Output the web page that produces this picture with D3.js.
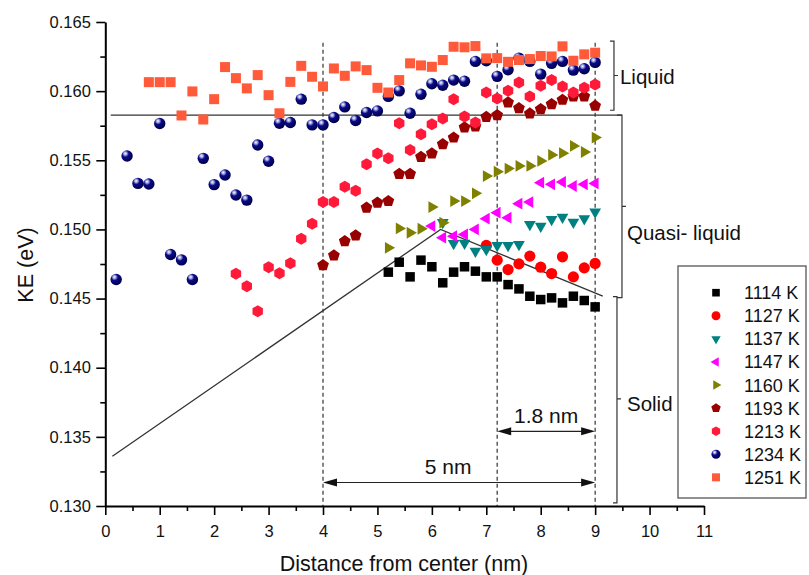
<!DOCTYPE html>
<html>
<head>
<meta charset="utf-8">
<script src="https://cdn.jsdelivr.net/npm/d3@7/dist/d3.min.js"></script>
<style>
  html, body { margin: 0; padding: 0; background: #fff; }
  svg { display: block; font-family: "Liberation Sans", Arial, sans-serif; }
</style>
</head>
<body>
<svg id="chart" width="809" height="575"></svg>
<script>
// Kinetic energy vs. distance from the cluster centre, one series per temperature
const temps = ["1114 K", "1127 K", "1137 K", "1147 K", "1160 K", "1193 K", "1213 K", "1234 K", "1251 K"];

const x1114 = [5.2, 5.4, 5.6, 5.8, 6.0, 6.2, 6.4, 6.6, 6.8, 7.0, 7.2, 7.4, 7.6, 7.8, 8.0, 8.2, 8.4, 8.6, 8.8, 9.0];
const ke1114 = [0.14691, 0.14763, 0.14657, 0.14778, 0.14730, 0.14614, 0.14691, 0.14730, 0.14698, 0.14657,
                0.14657, 0.14601, 0.14570, 0.14517, 0.14493, 0.14505, 0.14469, 0.14517, 0.14486, 0.14440];

const x1127 = [7.0, 7.2, 7.4, 7.6, 7.8, 8.0, 8.2, 8.4, 8.6, 8.8, 9.0];
const ke1127 = [0.14884, 0.14778, 0.14710, 0.14751, 0.14807, 0.14727, 0.14681, 0.14802, 0.14657, 0.14722, 0.14754];

const x1137 = [6.2, 6.4, 6.6, 6.8, 7.0, 7.2, 7.4, 7.6, 7.8, 8.0, 8.2, 8.4, 8.6, 8.8, 9.0];
const ke1137 = [0.15050, 0.14899, 0.14900, 0.14843, 0.14855, 0.14884, 0.14884, 0.14891, 0.15036, 0.15024,
                0.15072, 0.15089, 0.15053, 0.15078, 0.15126];

const x1147 = [6.0, 6.2, 6.4, 6.6, 6.8, 7.0, 7.2, 7.4, 7.6, 7.8, 8.0, 8.2, 8.4, 8.6, 8.8, 9.0];
const ke1147 = [0.15024, 0.14940, 0.14951, 0.14964, 0.15000, 0.15078, 0.15121, 0.15085, 0.15186, 0.15198,
                0.15338, 0.15326, 0.15343, 0.15314, 0.15326, 0.15333];

const x1160 = [5.2, 5.4, 5.6, 5.8, 6.0, 6.2, 6.4, 6.6, 6.8, 7.0, 7.2, 7.4, 7.6, 7.8, 8.0, 8.2, 8.4, 8.6, 8.8, 9.0];
const ke1160 = [0.14867, 0.15007, 0.14976, 0.15005, 0.15162, 0.15049, 0.15205, 0.15205, 0.15261, 0.15386,
                0.15418, 0.15440, 0.15459, 0.15459, 0.15495, 0.15539, 0.15551, 0.15604, 0.15560, 0.15664];

const x1193 = [4.0, 4.2, 4.4, 4.6, 4.8, 5.0, 5.2, 5.4, 5.6, 5.8, 6.0, 6.2, 6.4, 6.6, 6.8, 7.0, 7.2, 7.4, 7.6,
               7.8, 8.0, 8.2, 8.4, 8.6, 8.8, 9.0];
const ke1193 = [0.14741, 0.14812, 0.14915, 0.14957, 0.15157, 0.15193, 0.15205, 0.15401, 0.15401, 0.15524,
                0.15549, 0.15616, 0.15664, 0.15737, 0.15744, 0.15814, 0.15826, 0.15918, 0.15877, 0.15838,
                0.15870, 0.15906, 0.15937, 0.15962, 0.15962, 0.15894];

const x1213 = [2.4, 2.6, 2.8, 3.0, 3.2, 3.4, 3.6, 3.8, 4.0, 4.2, 4.4, 4.6, 4.8, 5.0, 5.2, 5.4, 5.6, 5.8, 6.0,
               6.2, 6.4, 6.6, 6.8, 7.0, 7.2, 7.4, 7.6, 7.8, 8.0, 8.2, 8.4, 8.6, 8.8, 9.0];
const ke1213 = [0.14679, 0.14589, 0.14408, 0.14727, 0.14683, 0.14756, 0.14932, 0.15041, 0.15198, 0.15198,
                0.15309, 0.15280, 0.15471, 0.15549, 0.15514, 0.15768, 0.15575, 0.15688, 0.15761, 0.15802,
                0.15942, 0.15817, 0.15773, 0.15990, 0.15947, 0.16002, 0.16063, 0.15962, 0.16039, 0.16080,
                0.16034, 0.15990, 0.16024, 0.16048];

const x1234 = [0.2, 0.4, 0.6, 0.8, 1.0, 1.2, 1.4, 1.6, 1.8, 2.0, 2.2, 2.4, 2.6, 2.8, 3.0, 3.2, 3.4, 3.6, 3.8,
               4.0, 4.2, 4.4, 4.6, 4.8, 5.0, 5.2, 5.4, 5.6, 5.8, 6.0, 6.2, 6.4, 6.6, 6.8, 7.0, 7.2, 7.4,
               7.6, 7.8, 8.0, 8.2, 8.4, 8.6, 8.8, 9.0];
const ke1234 = [0.14638, 0.15531, 0.15333, 0.15328, 0.15766, 0.14819, 0.14780, 0.14638, 0.15514, 0.15324,
                0.15394, 0.15249, 0.15212, 0.15611, 0.15493, 0.15768, 0.15773, 0.15942, 0.15756, 0.15756,
                0.15809, 0.15886, 0.15788, 0.15846, 0.15857, 0.15962, 0.16002, 0.15840, 0.15978, 0.16053,
                0.16043, 0.16080, 0.16072, 0.16215, 0.16220, 0.16107, 0.16155, 0.16239, 0.16215, 0.16123,
                0.16201, 0.16215, 0.16152, 0.16162, 0.16208];

const x1251 = [0.8, 1.0, 1.2, 1.4, 1.6, 1.8, 2.0, 2.2, 2.4, 2.6, 2.8, 3.0, 3.2, 3.4, 3.6, 3.8, 4.0, 4.2, 4.4,
               4.6, 4.8, 5.0, 5.2, 5.4, 5.6, 5.8, 6.0, 6.2, 6.4, 6.6, 6.8, 7.0, 7.2, 7.4, 7.6, 7.8, 8.0,
               8.2, 8.4, 8.6, 8.8, 9.0];
const ke1251 = [0.16065, 0.16065, 0.16065, 0.15824, 0.15998, 0.15795, 0.15942, 0.16174, 0.16094, 0.16020,
                0.16116, 0.15971, 0.15840, 0.16067, 0.16183, 0.16104, 0.16034, 0.16164, 0.16111, 0.16179,
                0.16152, 0.16024, 0.15990, 0.16080, 0.16201, 0.16186, 0.16176, 0.16225, 0.16321, 0.16317,
                0.16326, 0.16237, 0.16239, 0.16212, 0.16225, 0.16232, 0.16254, 0.16251, 0.16324, 0.16220,
                0.16266, 0.16278];

const xTicks = [0, 1, 2, 3, 4, 5, 6, 7, 8, 9, 10, 11];
const yTicks = [0.130, 0.135, 0.140, 0.145, 0.150, 0.155, 0.160, 0.165];

// Guide lines: solid/quasi-liquid envelope and liquid threshold
const envelopeX = [0.13, 6.16, 9.14];
const envelopeKE = [0.1336, 0.1500, 0.14517];
const liquidLineX = [0.1, 9.49];
const liquidLineKE = 0.15826;
const markerX = [4.0, 7.2, 9.0];

const series = [
  { name: temps[0], xs: x1114, ys: ke1114, shape: "square",  color: "#000000", size: 9.5 },
  { name: temps[1], xs: x1127, ys: ke1127, shape: "circle",  color: "#ff0000", size: 5.6 },
  { name: temps[2], xs: x1137, ys: ke1137, shape: "triDown", color: "#008080", size: 6.8 },
  { name: temps[3], xs: x1147, ys: ke1147, shape: "triLeft", color: "#ff00ff", size: 6.8 },
  { name: temps[4], xs: x1160, ys: ke1160, shape: "triRight",color: "#808000", size: 6.8 },
  { name: temps[5], xs: x1193, ys: ke1193, shape: "pentagon",color: "#990000", size: 6.2 },
  { name: temps[6], xs: x1213, ys: ke1213, shape: "hexagon", color: "#ff1a3a", size: 6.0 },
  { name: temps[7], xs: x1234, ys: ke1234, shape: "sphere",  color: "#000080", size: 5.7 },
  { name: temps[8], xs: x1251, ys: ke1251, shape: "square",  color: "#ff5a3a", size: 10 }
];

const svg = d3.select("#chart");
const x = d3.scaleLinear().domain([0, 11]).range([105.3, 704]);
const y = d3.scaleLinear().domain([0.130, 0.165]).range([506, 22]);

const defs = svg.append("defs");
const grad = defs.append("radialGradient").attr("id", "sphereGrad")
  .attr("cx", "38%").attr("cy", "32%").attr("r", "65%").attr("fx", "34%").attr("fy", "28%");
grad.append("stop").attr("offset", "0%").attr("stop-color", "#ffffff");
grad.append("stop").attr("offset", "22%").attr("stop-color", "#9aa0d8");
grad.append("stop").attr("offset", "45%").attr("stop-color", "#0a0a8c");
grad.append("stop").attr("offset", "100%").attr("stop-color", "#00004a");

const closed = d3.line().curve(d3.curveLinearClosed);
function polygon(n, r, startAngle) {
  const pts = [];
  for (let i = 0; i < n; i++) {
    const a = startAngle + i * 2 * Math.PI / n;
    pts.push([r * Math.cos(a), r * Math.sin(a)]);
  }
  return closed(pts);
}
function shapePath(shape, s) {
  switch (shape) {
    case "square":   return closed([[-s/2, -s/2], [s/2, -s/2], [s/2, s/2], [-s/2, s/2]]);
    case "triDown":  return polygon(3, s, Math.PI / 2);
    case "triLeft":  return polygon(3, s, Math.PI);
    case "triRight": return polygon(3, s, 0);
    case "pentagon": return polygon(5, s, -Math.PI / 2);
    case "hexagon":  return polygon(6, s, -Math.PI / 2);
    default: return null;
  }
}
function drawMark(g, d, scale) {
  const s = d.size * scale;
  if (d.shape === "circle") {
    g.append("circle").attr("r", s).attr("fill", d.color);
  } else if (d.shape === "sphere") {
    g.append("circle").attr("r", s).attr("fill", "url(#sphereGrad)");
  } else {
    g.append("path").attr("d", shapePath(d.shape, s)).attr("fill", d.color);
  }
}

// Vertical dashed reference lines
svg.append("g").selectAll("line").data(markerX).join("line")
  .attr("x1", d => x(d)).attr("x2", d => x(d))
  .attr("y1", y(0.1635)).attr("y2", y(0.130))
  .attr("stroke", "#333").attr("stroke-width", 1.2).attr("stroke-dasharray", "4,3");

// Envelope and liquid threshold lines
svg.append("path")
  .attr("d", d3.line()(envelopeX.map((v, i) => [x(v), y(envelopeKE[i])])))
  .attr("fill", "none").attr("stroke", "#333").attr("stroke-width", 1.3);
svg.append("line")
  .attr("x1", x(liquidLineX[0])).attr("x2", x(liquidLineX[1]))
  .attr("y1", y(liquidLineKE)).attr("y2", y(liquidLineKE))
  .attr("stroke", "#333").attr("stroke-width", 1.3);

// Data marks
series.forEach(d => {
  const g = svg.append("g");
  d.xs.forEach((xv, i) => {
    const m = g.append("g").attr("transform", `translate(${x(xv)},${y(d.ys[i])})`);
    drawMark(m, d, 1);
  });
});

// Axes
const xAxis = svg.append("g").attr("transform", `translate(0,${y(0.130)})`)
  .call(d3.axisBottom(x).tickValues(xTicks).tickFormat(d3.format("d")).tickSize(9).tickSizeOuter(0));
svg.append("g").attr("transform", `translate(0,${y(0.130)})`)
  .call(d3.axisBottom(x).tickValues(d3.range(0.5, 11, 1)).tickFormat("").tickSize(5).tickSizeOuter(0))
  .call(g => g.select(".domain").remove());
const yAxis = svg.append("g").attr("transform", `translate(${x(0)},0)`)
  .call(d3.axisLeft(y).tickValues(yTicks).tickFormat(d3.format(".3f")).tickSize(9).tickSizeOuter(0));
svg.append("g").attr("transform", `translate(${x(0)},0)`)
  .call(d3.axisLeft(y).tickValues(d3.range(0.1325, 0.165, 0.005)).tickFormat("").tickSize(5).tickSizeOuter(0))
  .call(g => g.select(".domain").remove());
svg.selectAll(".domain").attr("stroke", "#000").attr("stroke-width", 2);
svg.selectAll(".tick line").attr("stroke", "#000").attr("stroke-width", 1.6);
xAxis.selectAll(".tick text").attr("font-size", 16.5).attr("font-family", "Liberation Sans, Arial").attr("dy", "1.15em").attr("fill", "#111");
yAxis.selectAll(".tick text").attr("font-size", 16.5).attr("font-family", "Liberation Sans, Arial").attr("dx", "-0.15em").attr("fill", "#111");

svg.append("text").attr("x", 404).attr("y", 571).attr("text-anchor", "middle")
  .attr("font-size", 21.5).attr("fill", "#111").text("Distance from center (nm)");
svg.append("text").attr("transform", "translate(33,265) rotate(-90)").attr("text-anchor", "middle")
  .attr("font-size", 21.5).attr("fill", "#111").text("KE (eV)");

// Width arrows
const arrowHead = (px, py, dir) => closed([[px, py], [px - dir * 14, py - 4], [px - dir * 14, py + 4]]);
function spanArrow(x0, x1, ke, label, labelX) {
  const py = y(ke);
  svg.append("line").attr("x1", x(x0) + 4).attr("x2", x(x1) - 4).attr("y1", py).attr("y2", py)
    .attr("stroke", "#222").attr("stroke-width", 1.2);
  svg.append("path").attr("d", arrowHead(x(x0), py, -1)).attr("fill", "#111");
  svg.append("path").attr("d", arrowHead(x(x1), py, 1)).attr("fill", "#111");
  svg.append("text").attr("x", x(labelX)).attr("y", py - 8).attr("text-anchor", "middle")
    .attr("font-size", 21).attr("fill", "#111").text(label);
}
spanArrow(7.2, 9.0, 0.1354, "1.8 nm", 8.1);
spanArrow(4.0, 9.0, 0.1317, "5 nm", 6.3);

// Phase brackets
function bracket(bx, keTop, keBot, tickLen, notchLen, notchKE, label, labelDx, labelKE) {
  const px = x(bx), t = y(keTop), b = y(keBot), n = y(notchKE);
  svg.append("path")
    .attr("d", `M${px - tickLen},${t}H${px}V${b}H${px - tickLen}M${px},${n}H${px + notchLen}`)
    .attr("fill", "none").attr("stroke", "#333").attr("stroke-width", 1.2);
  svg.append("text").attr("x", px + labelDx).attr("y", y(labelKE)).attr("dy", "0.36em")
    .attr("font-size", 20.5).attr("fill", "#111").text(label);
}
bracket(9.346, 0.16362, 0.15862, 4, 4, 0.16113, "Liquid", 6, 0.16106);
bracket(9.493, 0.15826, 0.14507, 5, 4, 0.15167, "Quasi- liquid", 5, 0.14978);
bracket(9.401, 0.14514, 0.13022, 4, 4, 0.13775, "Solid", 10, 0.13739);

// Legend
const legend = svg.append("g");
legend.append("rect").attr("x", 678).attr("y", 266).attr("width", 128).attr("height", 232)
  .attr("fill", "#fff").attr("stroke", "#555").attr("stroke-width", 1.3);
series.forEach((d, i) => {
  const cy = 292.7 + i * 23.08;
  const m = legend.append("g").attr("transform", `translate(716,${cy})`);
  drawMark(m, d, 0.8);
  legend.append("text").attr("x", 744).attr("y", cy).attr("dy", "0.36em")
    .attr("font-size", 18).attr("fill", "#111").text(d.name);
});
</script>
</body>
</html>
